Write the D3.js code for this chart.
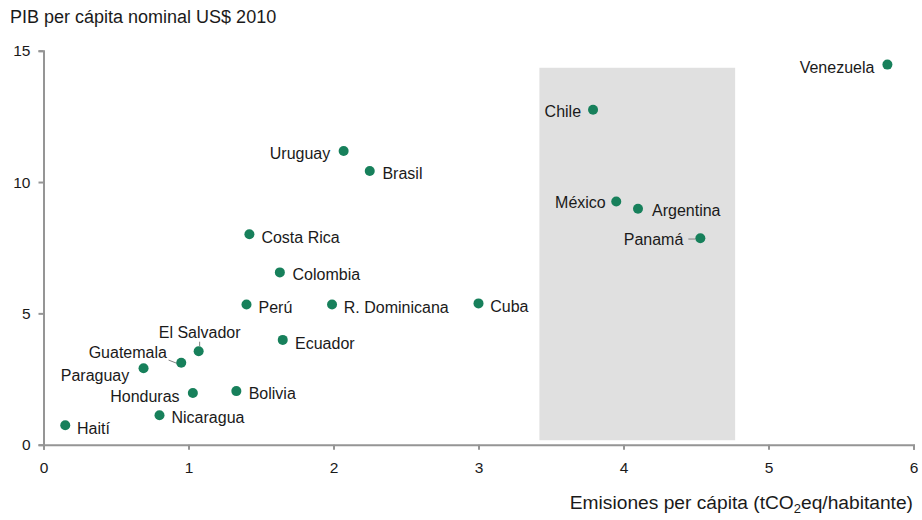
<!DOCTYPE html>
<html>
<head>
<meta charset="utf-8">
<script src="https://cdn.jsdelivr.net/npm/d3@7"></script>
<style>
  html, body { margin: 0; padding: 0; background: #fff; }
  svg { display: block; font-family: "Liberation Sans", Arial, sans-serif; }
</style>
</head>
<body>
<svg id="chart" width="922" height="520"></svg>
<script>
// Emisiones per cápita vs PIB per cápita, América Latina
const countries = ["Venezuela", "Chile", "México", "Argentina", "Panamá", "Uruguay", "Brasil",
  "Costa Rica", "Colombia", "Perú", "R. Dominicana", "Cuba", "Ecuador", "El Salvador",
  "Guatemala", "Paraguay", "Honduras", "Bolivia", "Nicaragua", "Haití"];
const emisiones = [5.82, 3.79, 3.95, 4.10, 4.53, 2.07, 2.25, 1.42, 1.63, 1.40, 1.99, 3.00, 1.65,
  1.07, 0.95, 0.69, 1.03, 1.33, 0.80, 0.15];
const pib = [14.47, 12.75, 9.26, 8.98, 7.86, 11.18, 10.42, 8.01, 6.56, 5.34, 5.34, 5.38, 3.99,
  3.56, 3.12, 2.91, 1.97, 2.04, 1.12, 0.74];

const xTicks = [0, 1, 2, 3, 4, 5, 6];
const yTicks = [0, 5, 10, 15];

// highlighted band (emisiones range, PIB range)
const bandX = [3.42, 4.77];
const bandY = [0.17, 14.35];

// label placement: anchor, offset from dot, optional leader line
const labelLayout = {
  "Venezuela":     { a: "end",    dx: -13,  dy: 3 },
  "Chile":         { a: "end",    dx: -12,  dy: 1.7 },
  "México":        { a: "end",    dx: -10.5,dy: 1.3 },
  "Argentina":     { a: "start",  dx: 14,   dy: 2 },
  "Panamá":        { a: "end",    dx: -17,  dy: 0.7, leader: [-12, 0.8, -5, 0.8] },
  "Uruguay":       { a: "end",    dx: -13.4,dy: 2 },
  "Brasil":        { a: "start",  dx: 12.7, dy: 2 },
  "Costa Rica":    { a: "start",  dx: 12,   dy: 2.7 },
  "Colombia":      { a: "start",  dx: 12.7, dy: 1.7 },
  "Perú":          { a: "start",  dx: 12,   dy: 3.4 },
  "R. Dominicana": { a: "start",  dx: 11.7, dy: 3.4 },
  "Cuba":          { a: "start",  dx: 11.7, dy: 3.4 },
  "Ecuador":       { a: "start",  dx: 12.3, dy: 3.3 },
  "El Salvador":   { a: "middle", dx: 1,    dy: -18.3, leader: [1, -9.5, 1, -5] },
  "Guatemala":     { a: "end",    dx: -14.3,dy: -10, leader: [-12.7, -2.7, -4.3, 0.6] },
  "Paraguay":      { a: "end",    dx: -14.3,dy: 6.7 },
  "Honduras":      { a: "end",    dx: -13.3,dy: 3 },
  "Bolivia":       { a: "start",  dx: 12.3, dy: 2.3 },
  "Nicaragua":     { a: "start",  dx: 12,   dy: 2.3 },
  "Haití":         { a: "start",  dx: 11.7, dy: 2.7 }
};

const svg = d3.select("#chart");
const x = d3.scaleLinear().domain([0, 6]).range([43.5, 913.5]);
const y = d3.scaleLinear().domain([0, 15]).range([444.7, 50.7]);

const axisColor = "#959595";
const dotColor = "#17805b";
const textColor = "#1a1a1a";

// shaded band
svg.append("rect")
  .attr("x", x(bandX[0])).attr("y", y(bandY[1]))
  .attr("width", x(bandX[1]) - x(bandX[0]))
  .attr("height", y(bandY[0]) - y(bandY[1]))
  .attr("fill", "#e0e0e0");

// axes
const xAxis = svg.append("g")
  .attr("transform", `translate(0,${y(0)})`)
  .call(d3.axisBottom(x).tickValues(xTicks).tickFormat(d3.format("d")).tickSize(5).tickPadding(12));
const yAxis = svg.append("g")
  .attr("transform", `translate(${x(0)},0)`)
  .call(d3.axisLeft(y).tickValues(yTicks).tickFormat(d3.format("d")).tickSize(5).tickPadding(8));

[xAxis, yAxis].forEach(g => {
  g.select(".domain").attr("stroke", axisColor).attr("stroke-width", 2);
  g.selectAll(".tick line").attr("stroke", axisColor).attr("stroke-width", 2);
  g.selectAll(".tick text")
    .attr("fill", textColor)
    .style("font-size", "15.5px")
    .style("font-family", "'Liberation Sans', Arial, sans-serif");
});

// leader lines
const idx = d3.range(countries.length);
svg.append("g").selectAll("line")
  .data(idx.filter(i => labelLayout[countries[i]].leader))
  .join("line")
  .attr("x1", i => x(emisiones[i]) + labelLayout[countries[i]].leader[0])
  .attr("y1", i => y(pib[i]) + labelLayout[countries[i]].leader[1])
  .attr("x2", i => x(emisiones[i]) + labelLayout[countries[i]].leader[2])
  .attr("y2", i => y(pib[i]) + labelLayout[countries[i]].leader[3])
  .attr("stroke", "#808080")
  .attr("stroke-width", 1);

// points
svg.append("g").selectAll("circle")
  .data(idx)
  .join("circle")
  .attr("cx", i => x(emisiones[i]))
  .attr("cy", i => y(pib[i]))
  .attr("r", 5)
  .attr("fill", dotColor);

// country labels
svg.append("g").selectAll("text")
  .data(idx)
  .join("text")
  .attr("x", i => x(emisiones[i]) + labelLayout[countries[i]].dx)
  .attr("y", i => y(pib[i]) + labelLayout[countries[i]].dy + 5.6)
  .attr("text-anchor", i => labelLayout[countries[i]].a)
  .attr("fill", textColor)
  .style("font-size", "16px")
  .text(i => countries[i]);

// axis titles
svg.append("text")
  .attr("x", 10).attr("y", 23)
  .attr("fill", textColor)
  .style("font-size", "18px")
  .text("PIB per cápita nominal US$ 2010");

const xt = svg.append("text")
  .attr("x", 913).attr("y", 509)
  .attr("text-anchor", "end")
  .attr("fill", textColor)
  .style("font-size", "19.2px");
xt.append("tspan").text("Emisiones per cápita (tCO");
xt.append("tspan").attr("dy", 4).style("font-size", "13px").text("2");
xt.append("tspan").attr("dy", -4).text("eq/habitante)");
</script>
</body>
</html>
